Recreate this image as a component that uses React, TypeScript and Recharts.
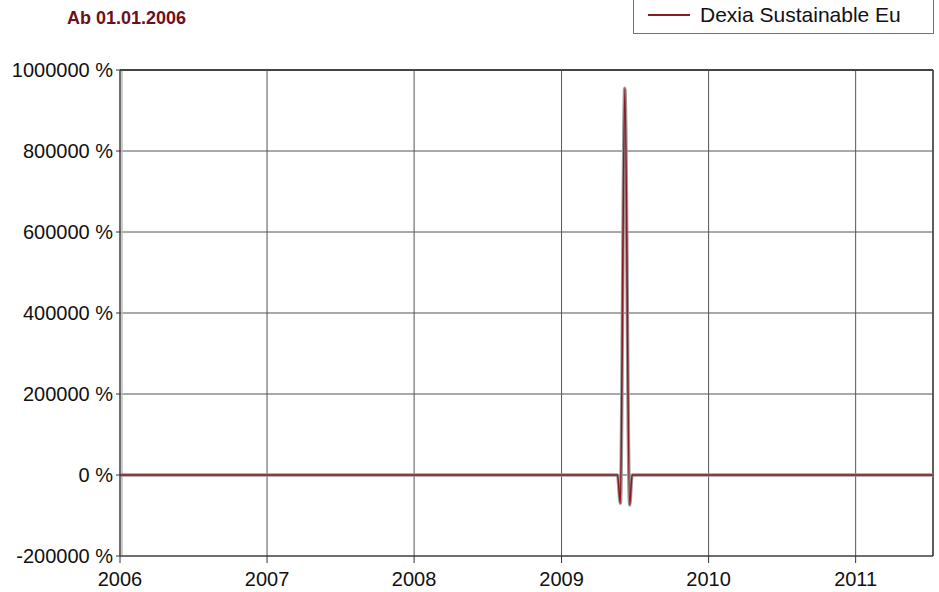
import React from "react";
import {
  LineChart,
  Line,
  XAxis,
  YAxis,
  CartesianGrid,
  ReferenceLine,
} from "recharts";

// dates of the series points (yyyy-mm-dd)
const dates = [
  "2006-01-01", "2006-07-01", "2007-01-01", "2007-07-01", "2008-01-01",
  "2008-07-01", "2009-01-01", "2009-05-20", "2009-05-27", "2009-06-07",
  "2009-06-19", "2009-06-25", "2010-01-01", "2010-07-01", "2011-01-01",
  "2011-07-12",
];
// performance in %
const values = [
  0, 2, 4, 6, 3, 1, -2, 0, -70000, 955000,
  -74000, 0, 1, 3, 4, 5,
];
const years = [2006, 2007, 2008, 2009, 2010, 2011];
const yTicks = [-200000, 0, 200000, 400000, 600000, 800000, 1000000];

const seriesName = "Dexia Sustainable Eu";
const red = "#8a1a22";

const toTs = (d: string) => new Date(d + "T00:00:00Z").getTime();

const data = dates.map((d, i) => ({ t: toTs(d), v: values[i] }));
const xTicks = years.map((y) => Date.UTC(y, 0, 1));
const xMax = toTs(dates[dates.length - 1]);
const DAY = 86400000;

const font = "'Liberation Sans', Arial, sans-serif";

export default function App() {
  return (
    <div
      style={{
        position: "absolute",
        left: 0,
        top: 0,
        width: 939,
        height: 592,
        background: "#fff",
      }}
    >
      <div
        style={{
          position: "absolute",
          left: 67,
          top: 8,
          fontFamily: font,
          fontWeight: "bold",
          fontSize: 18,
          color: "#6e0f1c",
        }}
      >
        Ab 01.01.2006
      </div>
      <div
        style={{
          position: "absolute",
          left: 633,
          top: -4,
          width: 301,
          height: 38,
          border: "1px solid #a85a60",
          boxSizing: "border-box",
          background: "#fff",
          display: "flex",
          alignItems: "center",
          fontFamily: font,
          fontSize: 21,
          color: "#111",
          zIndex: 2,
        }}
      >
        <span
          style={{
            display: "inline-block",
            width: 42,
            height: 2,
            background: red,
            marginLeft: 14,
            marginRight: 10,
          }}
        />
        <span>{seriesName}</span>
      </div>
      <LineChart
        width={939}
        height={592}
        data={data}
        margin={{ top: 70, right: 6, bottom: 0, left: 0 }}
      >
        <CartesianGrid stroke="#555" strokeWidth={1} />
        <XAxis
          dataKey="t"
          type="number"
          scale="time"
          domain={[xTicks[0], xMax]}
          ticks={xTicks}
          tickFormatter={(t: number) => String(new Date(t).getUTCFullYear())}
          height={36}
          stroke="#333"
          tickSize={7}
          tickMargin={9}
          tick={{ fill: "#111", fontSize: 20, fontFamily: font }}
        />
        <YAxis
          type="number"
          domain={[-200000, 1000000]}
          ticks={yTicks}
          tickFormatter={(v: number) => `${v} %`}
          width={120}
          stroke="#333"
          tickSize={4}
          tickMargin={3}
          interval={0}
          tick={{ fill: "#111", fontSize: 20, fontFamily: font }}
        />
        <ReferenceLine x={xTicks[0] + 5 * DAY} stroke="#bbb" strokeWidth={1.5} />
        <ReferenceLine x={xMax} stroke="#444" strokeWidth={1.5} />
        <ReferenceLine y={1000000} stroke="#444" strokeWidth={2} />
        <Line
          dataKey="v"
          type="monotone"
          stroke="#999"
          strokeWidth={3.5}
          dot={false}
          legendType="none"
          isAnimationActive={false}
        />
        <Line
          dataKey="v"
          name={seriesName}
          type="monotone"
          stroke={red}
          strokeWidth={1.6}
          dot={false}
          isAnimationActive={false}
        />
      </LineChart>
    </div>
  );
}
